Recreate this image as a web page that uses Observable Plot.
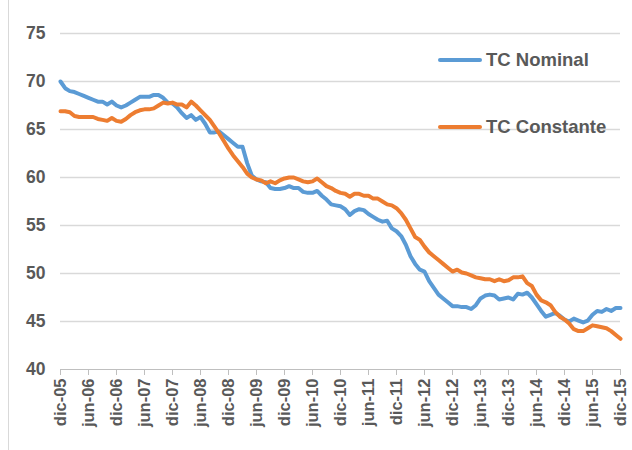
<!DOCTYPE html>
<html><head><meta charset="utf-8">
<script src="https://cdn.jsdelivr.net/npm/d3@7"></script>
<script src="https://cdn.jsdelivr.net/npm/@observablehq/plot@0.6"></script>
<style>
body{margin:0;background:#fff;font-family:"Liberation Sans",Arial,sans-serif;}
#wrap{position:relative;width:632px;height:450px;overflow:hidden;}
#border{position:absolute;left:8px;top:-2px;width:640px;height:470px;border:1px solid #d9d9d9;box-sizing:border-box;}
.leg{position:absolute;display:flex;align-items:center;font-weight:bold;font-size:18.5px;color:#595959;}
.leg span.sw{display:inline-block;width:44px;height:4px;border-radius:2px;margin-right:4px;}
</style></head>
<body><div id="wrap"><div id="border"></div></div>
<script>
const tickLabels = ["dic-05","jun-06","dic-06","jun-07","dic-07","jun-08","dic-08","jun-09","dic-09","jun-10","dic-10","jun-11","dic-11","jun-12","dic-12","jun-13","dic-13","jun-14","dic-14","jun-15","dic-15"];
const seriesNames = ["TC Nominal","TC Constante"];
const seriesColors = ["#5B9BD5","#ED7D31"];
const tcNominal = [70.0,69.3,69.0,68.9,68.7,68.5,68.3,68.1,67.9,67.9,67.6,67.9,
67.5,67.3,67.5,67.8,68.1,68.4,68.4,68.4,68.6,68.6,68.3,67.8,
67.7,67.3,66.7,66.2,66.5,66.0,66.3,65.6,64.7,64.7,64.8,64.4,
64.0,63.6,63.2,63.2,61.5,60.2,59.8,59.6,59.5,58.9,58.8,58.8,
58.9,59.1,58.9,58.9,58.5,58.4,58.4,58.6,58.1,57.7,57.2,57.1,
57.0,56.7,56.1,56.5,56.7,56.6,56.2,55.9,55.6,55.4,55.5,54.7,
54.4,53.9,53.0,51.8,51.0,50.4,50.2,49.2,48.5,47.8,47.4,47.0,
46.6,46.6,46.5,46.5,46.3,46.7,47.4,47.7,47.8,47.7,47.3,47.4,
47.5,47.3,47.9,47.8,48.0,47.5,46.8,46.1,45.5,45.7,45.9,45.6,
45.2,45.0,45.3,45.1,44.9,45.1,45.7,46.1,46.0,46.3,46.1,46.4,46.4];
const tcConstante = [66.9,66.9,66.8,66.4,66.3,66.3,66.3,66.3,66.1,66.0,65.9,66.2,
65.9,65.8,66.1,66.5,66.8,67.0,67.1,67.1,67.2,67.5,67.8,67.7,
67.8,67.6,67.6,67.3,67.9,67.5,67.0,66.5,66.0,65.3,64.6,63.8,
63.0,62.3,61.7,61.1,60.4,60.0,59.8,59.7,59.4,59.6,59.4,59.7,
59.9,60.0,60.0,59.8,59.6,59.5,59.6,59.9,59.5,59.1,58.9,58.6,
58.4,58.3,58.0,58.3,58.3,58.1,58.1,57.8,57.8,57.5,57.2,57.1,
56.8,56.3,55.6,54.7,53.8,53.5,52.8,52.2,51.8,51.4,51.0,50.6,
50.2,50.4,50.1,50.0,49.8,49.6,49.5,49.4,49.4,49.2,49.4,49.2,
49.3,49.6,49.6,49.7,49.0,48.7,47.8,47.2,47.0,46.7,46.0,45.5,
45.2,44.8,44.2,44.0,44.0,44.3,44.6,44.5,44.4,44.3,44.0,43.6,43.2];
const yTicks = [40,45,50,55,60,65,70,75];

const nom = tcNominal.map((v,i)=>({m:i,v}));
const con = tcConstante.map((v,i)=>({m:i,v}));
const xTicks = tickLabels.map((_,i)=>i*6);

const chart = Plot.plot({
  width:632, height:450,
  marginLeft:60, marginRight:12, marginTop:33, marginBottom:81,
  style:{fontFamily:"'Liberation Sans',Arial,sans-serif", fontWeight:"bold", color:"#595959", background:"transparent", overflow:"visible"},
  x:{domain:[0,120]},
  y:{domain:[40,75]},
  marks:[
    Plot.gridY(yTicks.filter(d=>d>40), {stroke:"#d9d9d9", strokeOpacity:1, strokeWidth:1.3}),
    Plot.ruleY([40], {stroke:"#bfbfbf", strokeWidth:1}),
    Plot.axisY(yTicks, {tickSize:0, tickPadding:15, fontSize:17.5, label:null}),
    Plot.axisX(xTicks, {tickSize:6, tickPadding:3, tickRotate:-90, fontSize:16.5, stroke:"#bfbfbf", label:null, tickFormat:d=>tickLabels[d/6]}),
    Plot.lineY(nom, {x:"m", y:"v", stroke:seriesColors[0], strokeWidth:4, curve:"linear"}),
    Plot.lineY(con, {x:"m", y:"v", stroke:seriesColors[1], strokeWidth:4, curve:"linear"})
  ]
});
const wrap = document.getElementById("wrap");
chart.style.position="absolute"; chart.style.left="0"; chart.style.top="0";
wrap.appendChild(chart);
const legPos = [[438,49],[438,116]];
seriesNames.forEach((n,i)=>{
  const d=document.createElement("div");
  d.className="leg";
  d.style.left=legPos[i][0]+"px"; d.style.top=legPos[i][1]+"px";
  d.innerHTML=`<span class="sw" style="background:${seriesColors[i]}"></span><span>${n}</span>`;
  wrap.appendChild(d);
});
</script></body></html>
